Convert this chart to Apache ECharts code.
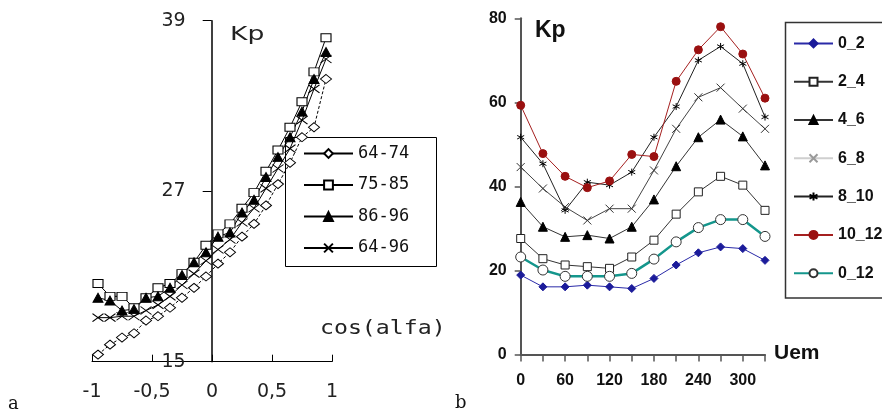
<!DOCTYPE html>
<html><head><meta charset="utf-8">
<script src="https://cdn.jsdelivr.net/npm/echarts@6/dist/echarts.min.js"></script>
<style>html,body{margin:0;padding:0;background:#fff}#c{width:882px;height:414px}</style>
</head><body><div id="c"></div>
<script>
// ---------- Panel a ----------
const cosAlfa = [-0.95,-0.85,-0.75,-0.65,-0.55,-0.45,-0.35,-0.25,-0.15,-0.05,0.05,0.15,0.25,0.35,0.45,0.55,0.65,0.75,0.85,0.95];
const kp_64_74 = [15.5,16.2,16.7,17.0,17.9,18.2,18.8,19.5,20.2,21.0,21.9,22.7,23.8,24.7,26.0,27.5,29.0,30.8,31.5,34.9];
const kp_75_85 = [20.5,19.6,19.6,18.8,19.5,20.2,20.5,21.2,22.0,23.2,24.0,24.7,25.8,26.9,28.4,29.9,31.5,33.3,35.4,37.8];
const kp_86_96 = [19.5,19.3,18.6,18.7,19.5,19.6,20.2,21.1,22.0,22.7,23.8,24.1,25.5,26.4,28.0,29.4,30.8,32.6,34.9,36.8];
const kp_64_96 = [18.1,18.1,18.2,18.2,18.6,19.0,19.6,20.4,21.2,22.1,22.9,23.6,24.8,25.8,27.2,28.6,30.0,32.0,34.2,36.3];
const aYTicks = [15,27,39];
const aNames = ['64-74','75-85','86-96','64-96'];

// ---------- Panel b ----------
const uem = [0,30,60,90,120,150,180,210,240,270,300,330];
const b_0_2   = [18.9,16.1,16.1,16.5,16.1,15.7,18.1,21.3,24.2,25.6,25.2,22.4];
const b_2_4   = [27.6,22.8,21.3,20.9,20.5,23.2,27.2,33.4,38.7,42.4,40.3,34.3];
const b_4_6   = [36.3,30.4,28.0,28.4,27.6,30.4,36.9,44.8,51.7,55.9,51.9,45.0];
const b_6_8   = [44.6,39.5,35.1,31.9,34.7,34.7,43.8,53.7,61.2,63.5,58.5,53.7];
const b_8_10  = [51.7,45.4,34.3,41.0,40.3,43.4,51.7,59.0,70.0,73.3,69.2,56.5];
const b_10_12 = [59.3,47.8,42.4,39.7,41.3,47.6,47.1,65.0,72.5,78.0,71.5,61.0];
const b_0_12  = [23.2,20.1,18.6,18.6,18.6,19.3,22.7,26.8,30.2,32.1,32.1,28.1];
const bXLabels = [0,60,120,180,240,300];
const bNames = ['0_2','2_4','4_6','6_8','8_10','10_12','0_12'];

const zip = (xs, ys) => xs.map((x, i) => [x, ys[i]]);
const crossPath = 'path://M0,0L10,8M0,8L10,0';
const starPath = 'path://M5,0L5,10M0,2.5L10,7.5M0,7.5L10,2.5';

function aSeries(name, vals, symbol, size, fill, dashed) {
  return {
    name, type: 'line', xAxisIndex: 0, yAxisIndex: 0, data: zip(cosAlfa, vals),
    symbol, symbolSize: size, showAllSymbol: true, animation: false,
    itemStyle: { color: fill, borderColor: '#000', borderWidth: 1 },
    lineStyle: { color: '#000', width: 1, type: dashed ? [3, 2] : 'solid' },
    emphasis: { disabled: true }
  };
}
function bSeries(name, vals, symbol, size, fill, border, lineColor, lw) {
  return {
    name, type: 'line', xAxisIndex: 1, yAxisIndex: 1, data: zip(uem, vals),
    symbol, symbolSize: size, showAllSymbol: true, animation: false,
    itemStyle: { color: fill, borderColor: border, borderWidth: 1 },
    lineStyle: { color: lineColor, width: lw },
    emphasis: { disabled: true }
  };
}

const chart = echarts.init(document.getElementById('c'), null, { renderer: 'canvas' });
const boldFont = 'Liberation Sans';
chart.setOption({
  backgroundColor: '#fff',
  animation: false,
  grid: [
    { left: 92, top: 20.7, width: 240, height: 341 },
    { left: 520.7, top: 18.3, width: 244.3, height: 336.2 }
  ],
  xAxis: [
    { type: 'value', gridIndex: 0, min: -1, max: 1, interval: 0.5,
      splitLine: { show: false },
      axisLine: { onZero: false, lineStyle: { color: '#000', width: 1 } },
      axisTick: { inside: true, length: 7, lineStyle: { color: '#000' } },
      axisLabel: { margin: 21, fontSize: 19, color: '#222', fontFamily: 'DejaVu Sans',
        formatter: v => String(v).replace('.', ',') } },
    { type: 'value', gridIndex: 1, min: 0, max: 330, interval: 30,
      splitLine: { show: false },
      axisLine: { lineStyle: { color: '#555', width: 2 } },
      axisTick: { length: 7, lineStyle: { color: '#555', width: 1.5 } },
      axisLabel: { customValues: bXLabels, margin: 18, fontSize: 16, fontWeight: 'bold',
        fontFamily: boldFont, color: '#111' } }
  ],
  yAxis: [
    { type: 'value', gridIndex: 0, min: 15, max: 39, offset: -119.7,
      splitLine: { show: false },
      axisLine: { show: true, onZero: false, lineStyle: { color: '#000', width: 1.5 } },
      axisTick: { show: true, customValues: aYTicks, length: 9, lineStyle: { color: '#000' } },
      axisLabel: { customValues: aYTicks, margin: 26, fontSize: 19, color: '#222', fontFamily: 'DejaVu Sans' } },
    { type: 'value', gridIndex: 1, min: 0, max: 80, interval: 20,
      splitLine: { show: false },
      axisLine: { show: true, lineStyle: { color: '#555', width: 2 } },
      axisTick: { show: true, length: 6, lineStyle: { color: '#555', width: 1.5 } },
      axisLabel: { margin: 14, fontSize: 16, fontWeight: 'bold', fontFamily: boldFont, color: '#111' } }
  ],
  legend: [
    { orient: 'vertical', left: 303, top: 145, padding: 0, itemWidth: 49, itemHeight: 11, itemGap: 14.5,
      data: aNames.map(n => ({ name: n, lineStyle: { type: 'solid' } })),
      selectedMode: false,
      textStyle: { fontFamily: 'DejaVu Sans Mono', fontSize: 17, color: '#111' } },
    { orient: 'vertical', left: 793, top: 35.4, padding: 0, itemWidth: 39, itemHeight: 10, itemGap: 22.3,
      data: bNames.map(n => n === '6_8'
        ? { name: n, lineStyle: { color: '#cfcfcf' }, itemStyle: { borderColor: '#999' } }
        : { name: n }),
      selectedMode: false,
      textStyle: { fontFamily: boldFont, fontWeight: 'bold', fontSize: 16, color: '#111' } }
  ],
  series: [
    aSeries(aNames[0], kp_64_74, 'diamond', [11, 9], '#fff', true),
    aSeries(aNames[1], kp_75_85, 'rect', [10, 8], '#fff', false),
    aSeries(aNames[2], kp_86_96, 'triangle', [10, 9], '#000', false),
    aSeries(aNames[3], kp_64_96, crossPath, [11, 8], 'transparent', false),
    bSeries('0_2', b_0_2, 'diamond', 8, '#1b1b9a', '#1b1b9a', '#2a2aa8', 1),
    bSeries('2_4', b_2_4, 'rect', 8, '#fff', '#222', '#333', 1),
    bSeries('4_6', b_4_6, 'triangle', 9, '#000', '#000', '#333', 1),
    bSeries('6_8', b_6_8, crossPath, [8, 8], 'transparent', '#333', '#444', 1),
    bSeries('8_10', b_8_10, starPath, [7, 7], 'transparent', '#000', '#222', 1),
    bSeries('10_12', b_10_12, 'circle', 8, '#9a1010', '#9a1010', '#a52020', 1),
    bSeries('0_12', b_0_12, 'circle', 10, '#fff', '#333', '#14968c', 2.5)
  ],
  graphic: [
    { type: 'rect', z: 0, shape: { x: 285.5, y: 137.5, width: 151, height: 129 },
      style: { fill: 'none', stroke: '#000', lineWidth: 1 } },
    { type: 'rect', z: 0, shape: { x: 785.5, y: 22.5, width: 250, height: 275.5 },
      style: { fill: 'none', stroke: '#333', lineWidth: 1.5 } },
    { type: 'text', x: 230, y: 35, scaleX: 1.4,
      style: { text: 'Kp', font: '19px "DejaVu Sans"', fill: '#222', textVerticalAlign: 'middle' } },
    { type: 'text', x: 320, y: 329, scaleX: 1.22,
      style: { text: 'cos(alfa)', font: '19px "DejaVu Sans Mono"', fill: '#222', textVerticalAlign: 'middle' } },
    { type: 'text', x: 535, y: 31,
      style: { text: 'Kp', font: 'bold 23px "Liberation Sans"', fill: '#111', textVerticalAlign: 'middle' } },
    { type: 'text', x: 774, y: 353,
      style: { text: 'Uem', font: 'bold 21px "Liberation Sans"', fill: '#111', textVerticalAlign: 'middle' } },
    { type: 'text', x: 8, y: 404,
      style: { text: 'a', font: '18px "DejaVu Serif"', fill: '#111', textVerticalAlign: 'middle' } },
    { type: 'text', x: 455, y: 403,
      style: { text: 'b', font: '18px "DejaVu Serif"', fill: '#111', textVerticalAlign: 'middle' } }
  ]
});
</script>
</body></html>
